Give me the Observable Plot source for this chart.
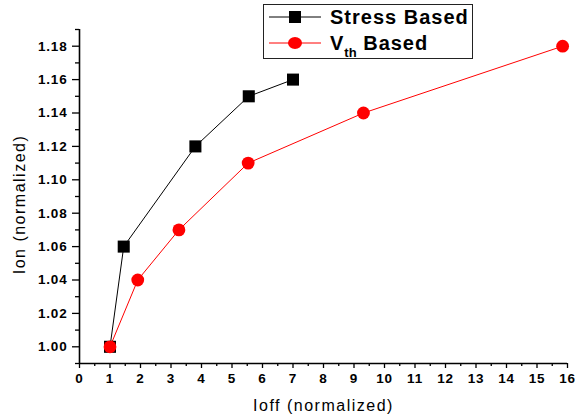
<!DOCTYPE html>
<html>
<head>
<meta charset="utf-8">
<script src="https://cdn.jsdelivr.net/npm/d3@7"></script>
<script src="https://cdn.jsdelivr.net/npm/@observablehq/plot@0.6"></script>
<style>
  html, body { margin: 0; padding: 0; background: #fff; }
  #wrap { position: relative; width: 575px; height: 420px; font-family: Arial, "Liberation Sans", sans-serif; }
  #legend { position: absolute; left: 263px; top: 4px; width: 208px; height: 53px; border: 1.3px solid #222; background: #fff; }
  #legend .row { position: absolute; left: 0; height: 26px; display: flex; align-items: center; }
  #legend .lbl { font-weight: bold; font-size: 20px; letter-spacing: 1px; margin-left: 8px; white-space: nowrap; }
  #legend sub { font-size: 13px; letter-spacing: 0; vertical-align: -7px; line-height: 0; }
</style>
</head>
<body>
<div id="wrap"></div>
<script>
const stressX = [1, 1.45, 3.8, 5.55, 7.0];
const stressY = [1.00, 1.06, 1.12, 1.15, 1.16];
const vthX = [1, 1.91, 3.26, 5.53, 9.31, 15.84];
const vthY = [1.00, 1.04, 1.07, 1.11, 1.14, 1.18];
const xMajor = d3.range(0, 17, 1);
const xMinor = d3.range(0.5, 16, 1);
const yMajor = [1.00, 1.02, 1.04, 1.06, 1.08, 1.10, 1.12, 1.14, 1.16, 1.18];
const yMinor = [0.99, 1.01, 1.03, 1.05, 1.07, 1.09, 1.11, 1.13, 1.15, 1.17, 1.19];

const stress = stressX.map((x, i) => ({x, y: stressY[i]}));
const vth = vthX.map((x, i) => ({x, y: vthY[i]}));

const chart = Plot.plot({
  width: 575,
  height: 420,
  marginLeft: 79,
  marginRight: 8,
  marginTop: 29,
  marginBottom: 57,
  style: {fontFamily: "Arial, 'Liberation Sans', sans-serif", background: "#fff", overflow: "visible"},
  x: {domain: [0, 16]},
  y: {domain: [0.99, 1.19]},
  marks: [
    Plot.axisX({ticks: xMinor, tickSize: 3, tickFormat: () => "", label: null, stroke: "#000", strokeWidth: 1.3}),
    Plot.axisX({ticks: xMajor, tickSize: 5, tickPadding: 5, tickFormat: d3.format("d"), fontSize: 13.5, fontWeight: "bold", fill: "#000", stroke: "#000", strokeWidth: 1.3,
      label: "Ioff (normalized)", labelAnchor: "center", labelArrow: "none", labelOffset: 47}),
    Plot.axisY({ticks: yMinor, tickSize: 4, tickFormat: () => "", label: null, stroke: "#000", strokeWidth: 1.3}),
    Plot.axisY({ticks: yMajor, tickSize: 7, tickPadding: 5, tickFormat: d3.format(".2f"), fontSize: 13.5, fontWeight: "bold", fill: "#000", stroke: "#000", strokeWidth: 1.3,
      label: "Ion (normalized)", labelAnchor: "center", labelArrow: "none", labelOffset: 66}),
    Plot.ruleX([0], {stroke: "#000", strokeWidth: 1.6}),
    Plot.ruleY([0.99], {stroke: "#000", strokeWidth: 1.6}),
    Plot.line(stress, {x: "x", y: "y", stroke: "#000", strokeWidth: 1}),
    Plot.line(vth, {x: "x", y: "y", stroke: "#ff0000", strokeWidth: 1}),
    Plot.dot(stress, {x: "x", y: "y", symbol: "square", r: 6.8, fill: "#000", stroke: "none"}),
    Plot.dot(vth, {x: "x", y: "y", symbol: "circle", r: 6.4, fill: "#ff0000", stroke: "none"})
  ]
});
const svg = d3.select(chart);
svg.selectAll("[aria-label='x-axis tick label'] text, [aria-label='y-axis tick label'] text")
  .attr("letter-spacing", "0.8px");
svg.selectAll("[aria-label='x-axis label'] text, [aria-label='y-axis label'] text")
  .attr("font-size", 16).attr("font-weight", "normal").attr("fill", "#000").attr("letter-spacing", "1.5px");
svg.selectAll("[aria-label='y-axis label'] text").attr("dx", -8);

const wrap = document.getElementById("wrap");
wrap.appendChild(chart);

const legend = document.createElement("div");
legend.id = "legend";
legend.innerHTML = `
  <div class="row" style="top:-1px">
    <svg width="58" height="26"><line x1="5" x2="57" y1="13" y2="13" stroke="#000" stroke-width="1"/><rect x="25" y="7" width="12" height="12" fill="#000"/></svg>
    <span class="lbl">Stress Based</span>
  </div>
  <div class="row" style="top:25px">
    <svg width="58" height="26"><line x1="5" x2="57" y1="13" y2="13" stroke="#ff0000" stroke-width="1"/><ellipse cx="31" cy="13" rx="7" ry="6" fill="#ff0000"/></svg>
    <span class="lbl">V<sub>th</sub> Based</span>
  </div>`;
wrap.appendChild(legend);
</script>
</body>
</html>
